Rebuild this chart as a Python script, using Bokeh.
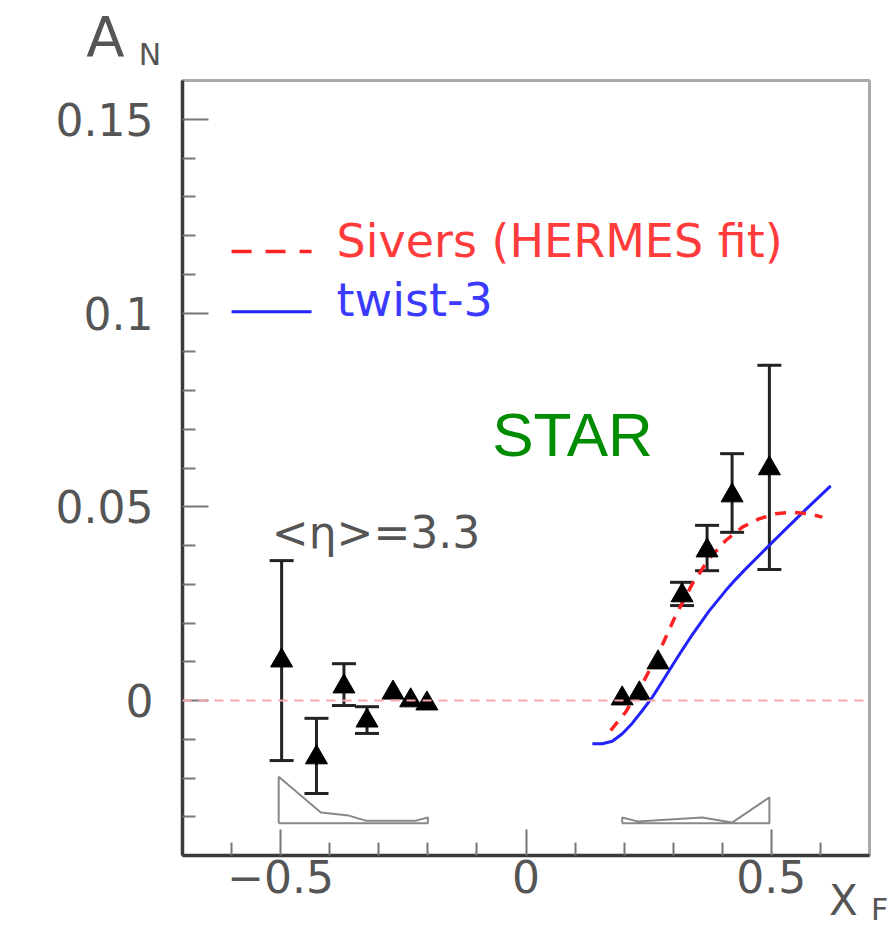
from bokeh.plotting import figure
from bokeh.models import (ColumnDataSource, Whisker, TeeHead, Label, Span,
                          FixedTicker)
from bokeh.embed import file_html
from bokeh.resources import INLINE

# ---------------- data ----------------
# STAR data, negative x_F  (None = error bar hidden behind the marker)
xf_neg = [-0.498, -0.427, -0.371, -0.324, -0.271, -0.235, -0.202]
an_neg = [0.0103, -0.0147, 0.0036, -0.0052, 0.0020, 0.0000, -0.0008]
hi_neg = [0.0361, -0.0046, 0.0095, -0.0016, None, None, None]
lo_neg = [-0.0155, -0.0240, -0.0013, -0.0085, None, None, None]

# STAR data, positive x_F
xf_pos = [0.196, 0.231, 0.269, 0.318, 0.369, 0.420, 0.496]
an_pos = [0.0005, 0.0018, 0.0098, 0.0271, 0.0387, 0.0529, 0.0599]
hi_pos = [None, None, None, 0.0305, 0.0452, 0.0637, 0.0865]
lo_pos = [None, None, None, 0.0245, 0.0335, 0.0434, 0.0338]

# Sivers (HERMES fit) curve
sivers_x = [0.1726, 0.2031, 0.2371, 0.2710, 0.3050, 0.3390, 0.3729, 0.4069,
            0.4409, 0.4748, 0.5088, 0.5428, 0.5767, 0.6039]
sivers_y = [-0.00774, -0.00301, 0.00430, 0.01247, 0.02194, 0.03011, 0.03656,
            0.04129, 0.04473, 0.04688, 0.04817, 0.04860, 0.04817, 0.04731]

# twist-3 curve
twist_x = [0.1352, 0.1556, 0.1759, 0.1963, 0.2167, 0.2371, 0.2575, 0.2778, 0.2982,
           0.3186, 0.3390, 0.3729, 0.4069, 0.4273, 0.4477, 0.4884, 0.5292, 0.5699,
           0.6209]
twist_y = [-0.01118, -0.01118, -0.01050, -0.00860, -0.00585, -0.00258, 0.00086,
           0.00490, 0.00903, 0.01308, 0.01703, 0.02306, 0.02836, 0.03126,
           0.03397, 0.03914, 0.04424, 0.04925, 0.05537]

# x_F distributions drawn at the bottom (outlines)
hist_neg_x = [-0.504, -0.504, -0.418, -0.361, -0.327, -0.224, -0.200, -0.200, -0.504]
hist_neg_y = [-0.0317, -0.0197, -0.0289, -0.0297, -0.0310, -0.0310, -0.0302, -0.0317, -0.0317]
hist_pos_x = [0.196, 0.196, 0.227, 0.359, 0.420, 0.496, 0.496, 0.196]
hist_pos_y = [-0.0317, -0.0302, -0.0312, -0.0302, -0.0315, -0.0250, -0.0317, -0.0317]

# ticks
x_ticks = [-0.5, 0.0, 0.5]
x_tick_labels = ["\u22120.5", "0", "0.5"]
x_minor = [-0.6, -0.4, -0.3, -0.2, -0.1, 0.1, 0.2, 0.3, 0.4, 0.6]
y_ticks = [0.0, 0.05, 0.1, 0.15]
y_tick_labels = ["0", "0.05", "0.1", "0.15"]
y_minor = [-0.03, -0.02, -0.01, 0.01, 0.02, 0.03, 0.04, 0.06, 0.07, 0.08,
           0.09, 0.11, 0.12, 0.13, 0.14]

# ---------------- figure ----------------
FONT = "DejaVu Sans"
p = figure(width=893, height=929, x_range=(-0.7, 0.7), y_range=(-0.04, 0.16),
           output_backend="svg", toolbar_location=None,
           min_border_left=182, min_border_right=24,
           min_border_top=80, min_border_bottom=74)
p.grid.visible = False
p.background_fill_color = "white"
p.border_fill_color = "white"
p.outline_line_color = "#aaaaaa"
p.outline_line_width = 3

for ax, ticks, labels, minor in ((p.xaxis[0], x_ticks, x_tick_labels, x_minor),
                                 (p.yaxis[0], y_ticks, y_tick_labels, y_minor)):
    ax.ticker = FixedTicker(ticks=ticks, minor_ticks=minor)
    ax.major_label_overrides = dict(zip(ticks, labels))
    ax.axis_line_color = "#3a3a3a"
    ax.axis_line_width = 3.5
    ax.major_tick_in = 26
    ax.major_tick_out = 0
    ax.minor_tick_in = 13
    ax.minor_tick_out = 0
    ax.major_tick_line_color = "#777777"
    ax.minor_tick_line_color = "#777777"
    ax.major_tick_line_width = 2
    ax.minor_tick_line_width = 2
    ax.major_label_text_font = FONT
    ax.major_label_text_font_size = "44px"
    ax.major_label_text_color = "#555555"
p.yaxis[0].major_label_standoff = 29
p.xaxis[0].major_label_standoff = 4

# zero line
p.add_layout(Span(location=0, dimension="width", line_color="#f4a8a8",
                  line_width=2, line_dash="9 7"))

# distributions
p.line(hist_neg_x, hist_neg_y, line_color="#888888", line_width=2)
p.line(hist_pos_x, hist_pos_y, line_color="#888888", line_width=2)

# curves
p.line(twist_x, twist_y, line_color="#2222ff", line_width=3)
p.line(sivers_x, sivers_y, line_color="#ff2222", line_width=3.5, line_dash="11 9")

# data with error bars
for xs, ys, hi, lo in ((xf_neg, an_neg, hi_neg, lo_neg), (xf_pos, an_pos, hi_pos, lo_pos)):
    keep = [i for i in range(len(xs)) if hi[i] is not None]
    err = ColumnDataSource(dict(x=[xs[i] for i in keep],
                                upper=[hi[i] for i in keep],
                                lower=[lo[i] for i in keep]))
    p.add_layout(Whisker(source=err, base="x", upper="upper", lower="lower",
                         line_color="#222222", line_width=3,
                         upper_head=TeeHead(size=24, line_color="#222222", line_width=3),
                         lower_head=TeeHead(size=24, line_color="#222222", line_width=3)))
    p.scatter(xs, ys, marker="triangle", size=22,
              fill_color="black", line_color="black")

# legend (ROOT-style, manual)
leg_x = [-0.60, -0.437]
p.line(leg_x, [0.1159, 0.1159], line_color="#ff2222", line_width=3.5, line_dash="20 14")
p.line(leg_x, [0.1003, 0.1003], line_color="#2222ff", line_width=3)
p.add_layout(Label(x=-0.386, y=0.1187, text="Sivers (HERMES fit)", text_font=FONT,
                   text_font_size="46px", text_color="#ff3b3b", text_baseline="middle"))
p.add_layout(Label(x=-0.386, y=0.1033, text="twist-3", text_font=FONT,
                   text_font_size="46px", text_color="#3b3bff", text_baseline="middle"))

# annotations inside the frame
p.add_layout(Label(x=-0.518, y=0.0434, text="<\u03b7>=3.3", text_font=FONT,
                   text_font_size="44px", text_color="#555555", text_baseline="middle"))
p.add_layout(Label(x=-0.069, y=0.0686, text="STAR", text_font="Liberation Sans",
                   text_font_size="62px", text_color="#008c00", text_baseline="middle"))

# axis titles (placed in side panels so that they are not clipped to the frame)
p.add_layout(Label(x=-0.896, y=0.1714, text="A", text_font=FONT, text_font_size="56px",
                   text_color="#555555", text_baseline="middle"), "above")
p.add_layout(Label(x=-0.789, y=0.1667, text="N", text_font=FONT, text_font_size="30px",
                   text_color="#555555", text_baseline="middle"), "left")
p.add_layout(Label(x=0.6175, y=-0.0516, text="X", text_font=FONT, text_font_size="42px",
                   text_color="#555555", text_baseline="middle"), "left")
p.add_layout(Label(x=0.703, y=-0.0540, text="F", text_font=FONT, text_font_size="30px",
                   text_color="#555555", text_baseline="middle"), "right")

open("out.html", "w").write(file_html(p, INLINE))
